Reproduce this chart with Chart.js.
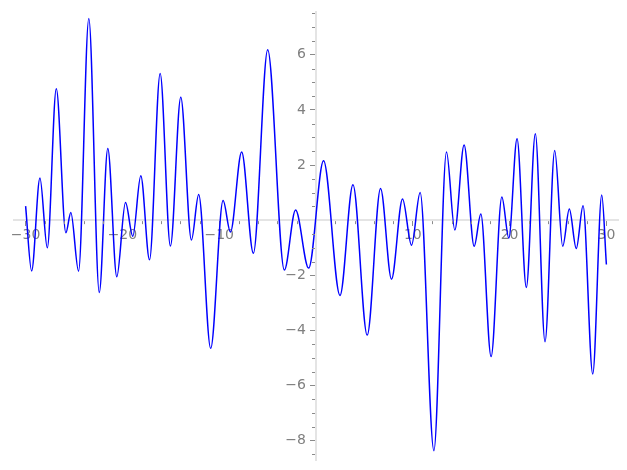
<!DOCTYPE html>
<html>
<head>
<meta charset="utf-8">
<script src="https://cdn.jsdelivr.net/npm/chart.js@4/dist/chart.umd.min.js"></script>
<style>
  html, body { margin: 0; padding: 0; background: #fff; }
  #wrap { width: 627px; height: 470px; }
</style>
</head>
<body>
<div id="wrap"><canvas id="myChart" width="627" height="470"></canvas></div>
<script>
// curve: turning points, start and end
var xs = [-30, -29.38, -28.52, -27.76, -26.83, -25.84, -25.33, -24.53, -23.47, -22.39,
          -21.51, -20.58, -19.68, -18.93, -18.10, -17.20, -16.10, -15.04, -13.97, -12.87,
          -12.12, -10.88, -9.60, -8.84, -7.68, -6.47, -4.99, -3.27, -2.11, -0.76,
          0.78, 2.48, 3.82, 5.29, 6.67, 7.80, 8.94, 9.87, 10.76, 12.18,
          13.48, 14.34, 15.30, 16.34, 17.03, 18.09, 19.20, 19.92, 20.77, 21.73,
          22.66, 23.66, 24.66, 25.49, 26.17, 26.89, 27.59, 28.59, 29.52, 30];
var ys = [0.51, -1.84, 1.53, -1.00, 4.77, -0.46, 0.28, -1.85, 7.31, -2.62,
          2.60, -2.05, 0.64, -0.58, 1.61, -1.44, 5.32, -0.94, 4.46, -0.72,
          0.93, -4.65, 0.71, -0.43, 2.47, -1.20, 6.18, -1.81, 0.37, -1.74,
          2.15, -2.73, 1.28, -4.17, 1.15, -2.14, 0.77, -0.91, 1.00, -8.36,
          2.47, -0.36, 2.73, -0.95, 0.22, -4.95, 0.84, -0.65, 2.95, -2.44,
          3.13, -4.41, 2.53, -0.95, 0.40, -1.03, 0.52, -5.58, 0.91, -1.61];

var xTicks = [-30, -20, -10, 10, 20, 30];
var yTicks = [-8, -6, -4, -2, 2, 4, 6];

var tickGray = '#8a8a8a';
var axisGray = '#e4e4e4';

// small ticks between the labelled ones
var minorTicks = {
    id: 'minorTicks',
    afterDatasetsDraw: function(c) {
        var ctx = c.ctx, sx = c.scales.x, sy = c.scales.y;
        var x0 = sx.getPixelForValue(0), y0 = sy.getPixelForValue(0);
        ctx.save();
        ctx.strokeStyle = tickGray;
        ctx.lineWidth = 1;
        ctx.beginPath();
        for (var v = -30; v <= 30; v += 2) {
            if (v % 10 === 0) continue;
            var px = Math.round(sx.getPixelForValue(v)) + 0.5;
            ctx.moveTo(px, y0 + 1);
            ctx.lineTo(px, y0 + 4);
        }
        for (var w = -8.5; w <= 7.5; w += 0.5) {
            if (w % 2 === 0) continue;
            var py = Math.round(sy.getPixelForValue(w)) + 0.5;
            ctx.moveTo(x0 - 1, py);
            ctx.lineTo(x0 - 4, py);
        }
        ctx.stroke();
        ctx.restore();
    }
};

function noPad(s) {
    s.paddingTop = 0; s.paddingBottom = 0; s.paddingLeft = 0; s.paddingRight = 0;
}

var ctx = document.getElementById('myChart').getContext('2d');
var chart = new Chart(ctx, {
    type: 'line',
    data: {
        datasets: [{
            data: xs.map(function(x, i) { return {x: x, y: ys[i]}; }),
            borderColor: '#0000ff',
            borderWidth: 1.5,
            pointRadius: 0,
            fill: false,
            cubicInterpolationMode: 'monotone'
        }]
    },
    plugins: [minorTicks],
    options: {
        responsive: false,
        animation: false,
        layout: { padding: { left: 14, right: 9, top: 12, bottom: 10 } },
        plugins: { legend: { display: false }, tooltip: { enabled: false } },
        scales: {
            x: {
                type: 'linear',
                min: -31.2,
                max: 31.2,
                position: { y: 0 },
                afterBuildTicks: function(s) { s.ticks = xTicks.map(function(v) { return {value: v}; }); },
                afterFit: noPad,
                grid: { drawOnChartArea: false, drawTicks: true, tickLength: 5, tickColor: tickGray, tickWidth: 1 },
                border: { color: axisGray, width: 2 },
                ticks: {
                    color: '#7f7f7f',
                    padding: 2,
                    font: { family: 'DejaVu Sans', size: 14 },
                    maxRotation: 0,
                    callback: function(v) { return String(v).replace('-', '\u2212'); }
                }
            },
            y: {
                type: 'linear',
                min: -8.7,
                max: 7.55,
                position: 'center',
                afterBuildTicks: function(s) { s.ticks = yTicks.map(function(v) { return {value: v}; }); },
                afterFit: noPad,
                grid: { drawOnChartArea: false, drawTicks: true, tickLength: 5, tickColor: tickGray, tickWidth: 1 },
                border: { color: axisGray, width: 2 },
                ticks: {
                    color: '#7f7f7f',
                    padding: 5,
                    font: { family: 'DejaVu Sans', size: 14 },
                    callback: function(v) { return String(v).replace('-', '\u2212'); }
                }
            }
        }
    }
});
</script>
</body>
</html>
